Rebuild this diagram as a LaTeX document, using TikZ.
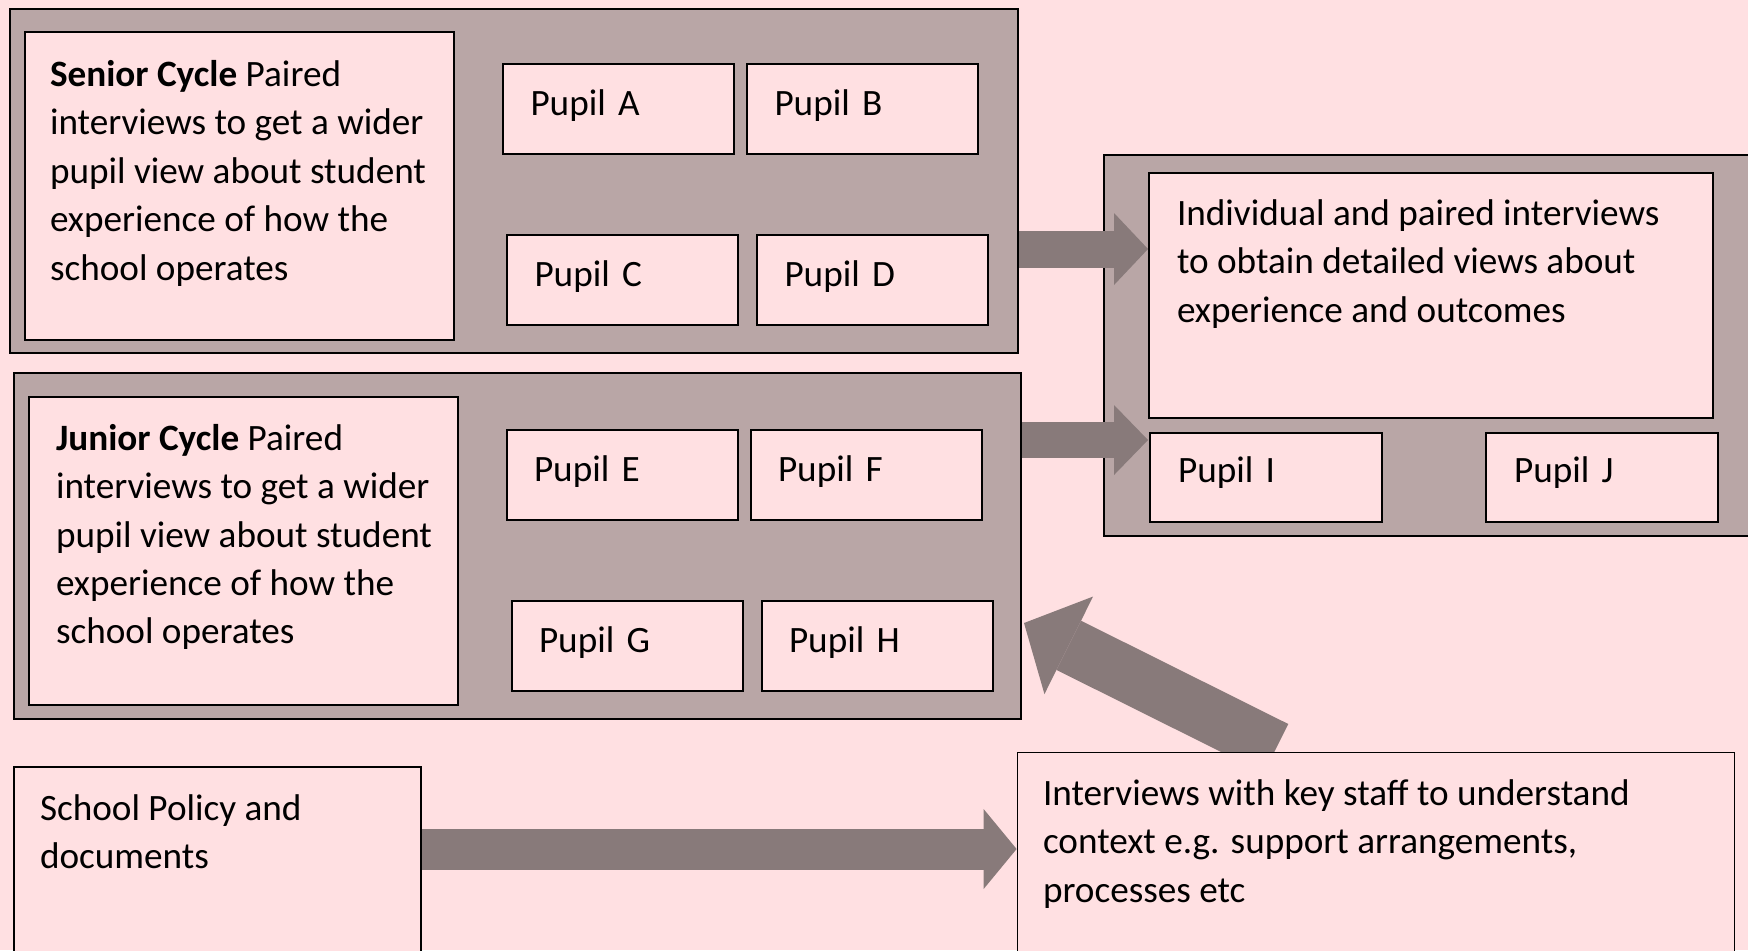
\documentclass[tikz,border=0pt]{standalone}
\usepackage{fontspec}
\setmainfont{Carlito}
\usetikzlibrary{arrows.meta,positioning,calc}
\definecolor{pagepink}{HTML}{FFE0E2}
\definecolor{groupmauve}{HTML}{B9A6A6}
\definecolor{arrowgrey}{HTML}{887A7A}
\pgfdeclarelayer{front}
\pgfsetlayers{main,front}
\tikzset{
  >=latex,
  group/.style={draw, fill=groupmauve, inner sep=0pt},
  card/.style={draw, fill=pagepink, inner sep=0pt},
  pupil/.style={card, minimum width=115.5pt, minimum height=45pt, text width=88pt, inner xsep=13.5pt, align=left, text height=12.7pt, text depth=6pt},
  blurb/.style={anchor=north west, inner sep=0pt, align=left},
  bigarrow/.style={draw=arrowgrey, line cap=butt}
}

\begin{document}
\begin{tikzpicture}[x=0.5pt, y=-0.5pt, line width=1pt, font=\fontsize{18.6}{24.2}\selectfont]
		\clip (0,0) rectangle (1748,950);
		\fill[pagepink] (0,0) rectangle (1748,950);

		% senior cycle group
		\node[group, minimum width=504pt, minimum height=172pt] (senior) at (514,181) {};
		\node[card, minimum width=214.5pt, minimum height=154pt] (seniorbox) at (239.5,186) {};
		\node[blurb] (seniortext) at ([xshift=12.5pt,yshift=-14.2pt]seniorbox.north west) {\textbf{Senior Cycle} Paired\\interviews to get a wider\\pupil view about student\\experience of how the\\school operates};
		\node[pupil] (pupilA) at (618.5,109) {Pupil A};
		\node[pupil, right=5.5pt of pupilA] (pupilB) {Pupil B};
		\node[pupil] (pupilC) at (622.5,280) {Pupil C};
		\node[pupil, right=8.5pt of pupilC] (pupilD) {Pupil D};

		% junior cycle group
		\node[group, minimum width=503.5pt, minimum height=173pt] (junior) at (517.5,546) {};
		\node[card, minimum width=214.5pt, minimum height=154pt] (juniorbox) at (243.5,551) {};
		\node[blurb] (juniortext) at ([xshift=13.5pt,yshift=-13.6pt]juniorbox.north west) {\textbf{Junior Cycle} Paired\\interviews to get a wider\\pupil view about student\\experience of how the\\school operates};
		\node[pupil] (pupilE) at (622,474.5) {Pupil E};
		\node[pupil, right=5.5pt of pupilE] (pupilF) {Pupil F};
		\node[pupil] (pupilG) at (627,646) {Pupil G};
		\node[pupil, right=8.5pt of pupilG] (pupilH) {Pupil H};

		% individual interviews group
		\node[group, minimum width=328pt, minimum height=190.5pt] (indiv) at (1432,345.5) {};
		\node[card, minimum width=282pt, minimum height=122.5pt] (indivbox) at (1431,295.5) {};
		\node[blurb] (indivtext) at ([xshift=14pt,yshift=-13.2pt]indivbox.north west) {Individual and paired interviews\\to obtain detailed views about\\experience and outcomes};
		\node[pupil, minimum width=116pt, minimum height=44.5pt, text depth=8pt] (pupilI) at (1266,477.5) {Pupil I};
		\node[pupil, minimum width=116pt, minimum height=44.5pt, text depth=8pt, right=51pt of pupilI] (pupilJ) {Pupil J};

		% documents and staff
		\node[card, minimum width=203.5pt, minimum height=101.5pt] (policy) at (217.5,868.5) {};
		\node[blurb] (policytext) at ([xshift=13pt,yshift=-13.6pt]policy.north west) {School Policy and\\documents};
		\begin{pgfonlayer}{front}
		\node[card, minimum width=358.5pt, minimum height=109pt] (staff) at (1375.5,861) {};
		\node[blurb] (stafftext) at ([xshift=13pt,yshift=-13.7pt]staff.north west) {Interviews with key staff to understand\\context e.g. support arrangements,\\processes etc};
		\end{pgfonlayer}

		% block arrows
		\coordinate (seniorout) at ([yshift=-34pt]senior.east);
		\coordinate (juniorout) at ([yshift=53pt]junior.east);
		\coordinate (policyout) at ([yshift=9.75pt]policy.east);
		\coordinate (stafftail) at ([xshift=-49.75pt,yshift=1.5pt]staff.north);
		\coordinate (juniortip) at ([xshift=1pt,yshift=48.5pt]junior.south east);

		\draw[bigarrow, line width=18.5pt, -{Triangle[width=36pt,length=17pt,line width=0pt]}] (seniorout) -- (seniorout -| indivbox.west);
		\draw[bigarrow, line width=18pt, -{Triangle[width=35pt,length=17pt,line width=0pt]}] (juniorout) -- (juniorout -| indivbox.west);
		\draw[bigarrow, line width=20.5pt, -{Triangle[width=40pt,length=16.5pt,line width=0pt]}] (policyout) -- (policyout -| staff.west);
		\draw[bigarrow, line width=27.5pt, -{Triangle[width=54.5pt,length=25pt,line width=0pt]}] (stafftail) -- (juniortip);
	\end{tikzpicture}
\end{document}
